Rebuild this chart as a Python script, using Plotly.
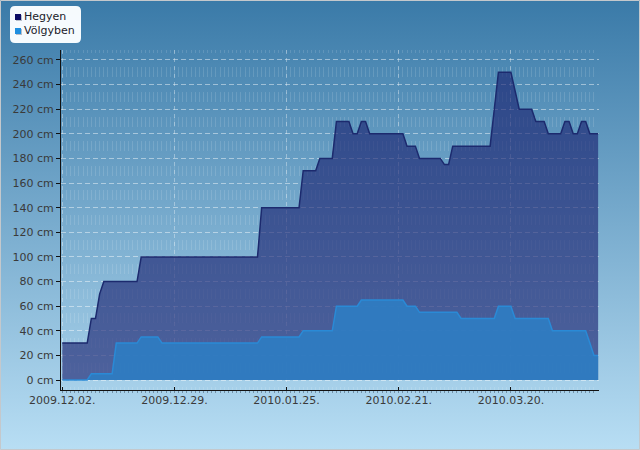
import base64
import pandas as pd
import plotly.graph_objects as go

# ---------------- data ----------------
start_date = "2009-12-02"
n_days = 130

hegyen = [
    30, 30, 30, 30, 30, 30, 30, 50, 50, 70,
    80, 80, 80, 80, 80, 80, 80, 80, 80, 100,
    100, 100, 100, 100, 100, 100, 100, 100, 100, 100,
    100, 100, 100, 100, 100, 100, 100, 100, 100, 100,
    100, 100, 100, 100, 100, 100, 100, 100, 140, 140,
    140, 140, 140, 140, 140, 140, 140, 140, 170, 170,
    170, 170, 180, 180, 180, 180, 210, 210, 210, 210,
    200, 200, 210, 210, 200, 200, 200, 200, 200, 200,
    200, 200, 200, 190, 190, 190, 180, 180, 180, 180,
    180, 180, 175, 175, 190, 190, 190, 190, 190, 190,
    190, 190, 190, 190, 220, 250, 250, 250, 250, 235,
    220, 220, 220, 220, 210, 210, 210, 200, 200, 200,
    200, 210, 210, 200, 200, 210, 210, 200, 200, 200,
]

volgyben = [
    0, 0, 0, 0, 0, 0, 0, 5, 5, 5,
    5, 5, 5, 30, 30, 30, 30, 30, 30, 35,
    35, 35, 35, 35, 30, 30, 30, 30, 30, 30,
    30, 30, 30, 30, 30, 30, 30, 30, 30, 30,
    30, 30, 30, 30, 30, 30, 30, 30, 35, 35,
    35, 35, 35, 35, 35, 35, 35, 35, 40, 40,
    40, 40, 40, 40, 40, 40, 60, 60, 60, 60,
    60, 60, 65, 65, 65, 65, 65, 65, 65, 65,
    65, 65, 65, 60, 60, 60, 55, 55, 55, 55,
    55, 55, 55, 55, 55, 55, 50, 50, 50, 50,
    50, 50, 50, 50, 50, 60, 60, 60, 60, 50,
    50, 50, 50, 50, 50, 50, 50, 50, 40, 40,
    40, 40, 40, 40, 40, 40, 40, 30, 20, 20,
]

series_names = ["Hegyen", "Völgyben"]
x_tick_dates = ["2009-12-02", "2009-12-29", "2010-01-25", "2010-02-21", "2010-03-20"]
x_tick_labels = ["2009.12.02.", "2009.12.29.", "2010.01.25.", "2010.02.21.", "2010.03.20."]
y_tick_values = [0, 20, 40, 60, 80, 100, 120, 140, 160, 180, 200, 220, 240, 260]
y_tick_labels = ["0 cm", "20 cm", "40 cm", "60 cm", "80 cm", "100 cm", "120 cm",
                 "140 cm", "160 cm", "180 cm", "200 cm", "220 cm", "240 cm", "260 cm"]

dates = pd.date_range(start_date, periods=n_days, freq="D")

# ---------------- layout geometry ----------------
W, H = 640, 450
L, R, T, B = 61, 41, 50, 60
PW, PH = W - L - R, H - T - B


def px2x(px):
    return (px - L) / PW


def py2y(py):
    return (H - B - py) / PH


FONT = "DejaVu Sans"

fig = go.Figure()

fig.add_trace(go.Scatter(
    x=dates, y=hegyen, name=series_names[0], mode="lines",
    line=dict(color="#1c2a6e", width=1.5),
    fill="tozeroy", fillcolor="rgba(25,30,110,0.62)",
    showlegend=False,
))
fig.add_trace(go.Scatter(
    x=dates, y=volgyben, name=series_names[1], mode="lines",
    line=dict(color="#2a8ad6", width=1.5),
    fill="tozeroy", fillcolor="rgba(45,125,195,0.9)",
    showlegend=False,
))

# background gradient as an svg image
svg = (
    "<svg xmlns='http://www.w3.org/2000/svg' width='640' height='450' preserveAspectRatio='none'>"
    "<defs><linearGradient id='g' x1='0' y1='0' x2='0' y2='1'>"
    "<stop offset='0' stop-color='#3a7aa8'/><stop offset='1' stop-color='#b8def4'/>"
    "</linearGradient></defs><rect width='640' height='450' fill='url(#g)'/></svg>"
)
src = "data:image/svg+xml;base64," + base64.b64encode(svg.encode()).decode()

x0 = pd.Timestamp(start_date)
x_range = [x0 - pd.Timedelta(hours=7.4), x0 + pd.Timedelta(days=129, hours=5)]

shapes = []
# legend box (rounded)
bx0, by0, bx1, by1, r = 10, 6, 81, 43, 5
rx, ry = r / PW, r / PH
X0, X1, Y0, Y1 = px2x(bx0), px2x(bx1), py2y(by0), py2y(by1)
path = (
    f"M{X0+rx},{Y0} L{X1-rx},{Y0} Q{X1},{Y0} {X1},{Y0-ry} "
    f"L{X1},{Y1+ry} Q{X1},{Y1} {X1-rx},{Y1} "
    f"L{X0+rx},{Y1} Q{X0},{Y1} {X0},{Y1+ry} "
    f"L{X0},{Y0-ry} Q{X0},{Y0} {X0+rx},{Y0} Z"
)
shapes.append(dict(type="path", path=path, xref="paper", yref="paper",
                   fillcolor="rgba(250,253,255,0.98)", line=dict(width=0), layer="above"))
marker_colors = ["#0c0c64", "#1e8fe0"]
marker_rows = [14, 28]
for c, top in zip(marker_colors, marker_rows):
    shapes.append(dict(type="rect", xref="paper", yref="paper",
                       x0=px2x(16), x1=px2x(22), y0=py2y(top + 1), y1=py2y(top + 7),
                       fillcolor="rgba(120,130,150,0.5)", line=dict(width=0), layer="above"))
    shapes.append(dict(type="rect", xref="paper", yref="paper",
                       x0=px2x(15), x1=px2x(21), y0=py2y(top), y1=py2y(top + 6),
                       fillcolor=c, line=dict(width=0), layer="above"))
# outer border
shapes.append(dict(type="rect", xref="paper", yref="paper",
                   x0=px2x(0.5), x1=px2x(W - 0.5), y0=py2y(0.5), y1=py2y(H - 0.5),
                   line=dict(color="#c4c8cc", width=1), fillcolor="rgba(0,0,0,0)", layer="above"))

annotations = []
for name, top in zip(series_names, marker_rows):
    annotations.append(dict(text=name, x=px2x(22), y=py2y(top + 3), xref="paper", yref="paper",
                            xanchor="left", yanchor="middle", showarrow=False,
                            font=dict(family=FONT, size=11, color="#1a1a2a")))

fig.update_layout(
    width=W, height=H,
    margin=dict(l=L, r=R, t=T, b=B, pad=0),
    paper_bgcolor="#79b3d8",
    plot_bgcolor="rgba(0,0,0,0)",
    showlegend=False,
    images=[dict(source=src, xref="paper", yref="paper", x=px2x(0), y=py2y(0),
                 sizex=W / PW, sizey=H / PH, xanchor="left", yanchor="top",
                 sizing="stretch", layer="below")],
    shapes=shapes,
    annotations=annotations,
    font=dict(family=FONT, size=11, color="#3a3a3a"),
)

fig.update_xaxes(
    range=x_range, tickmode="array", tickvals=x_tick_dates, ticktext=x_tick_labels,
    showline=True, linecolor="#111111", linewidth=1,
    ticks="inside", ticklen=3, tickcolor="#111111",
    showgrid=True, gridcolor="rgba(255,255,255,0.35)", griddash="4px,4px", gridwidth=1,
    zeroline=False,
    tickfont=dict(family=FONT, size=11, color="#3a3a3a"),
    minor=dict(dtick=86400000, tick0=start_date, showgrid=True,
               gridcolor="rgba(255,255,255,0.13)", griddash="2.7px,14.6px,7.3px,0px",
               ticks="outside", ticklen=2, tickcolor="rgba(70,90,110,0.55)"),
)
fig.update_yaxes(
    range=[-8.125, 268.1], tickmode="array", tickvals=y_tick_values, ticktext=y_tick_labels,
    showline=True, linecolor="#111111", linewidth=1,
    ticks="outside", ticklen=4, tickcolor="#111111",
    showgrid=True, gridcolor="rgba(255,255,255,0.45)", griddash="5px,3px", gridwidth=1,
    zeroline=False,
    tickfont=dict(family=FONT, size=11, color="#3a3a3a"),
)

fig.write_html("out.html")
